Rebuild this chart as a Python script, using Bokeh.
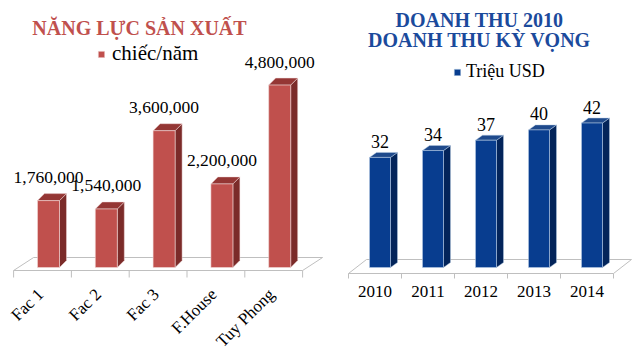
import math
from bokeh.plotting import figure
from bokeh.layouts import row
from bokeh.models import Range1d, Label, Legend, LegendItem
from bokeh.core.properties import value
from bokeh.embed import file_html
from bokeh.resources import INLINE

# ---- data ----
factories = ["Fac 1", "Fac 2", "Fac 3", "F.House", "Tuy Phong"]
capacity = [1760000, 1540000, 3600000, 2200000, 4800000]
capacity_unit = "chiếc/năm"
title_left = ["NĂNG LỰC SẢN XUẤT"]

years = ["2010", "2011", "2012", "2013", "2014"]
revenue = [32, 34, 37, 40, 42]
revenue_unit = "Triệu USD"
title_right = ["DOANH THU 2010", "DOANH THU KỲ VỌNG"]

H = 354
FONT = "Liberation Serif"


def build(cats, vals, titles, unit, cfg):
    W, step, c0, k, base = cfg["W"], cfg["step"], cfg["c0"], cfg["k"], cfg["base"]
    p = figure(width=W, height=H,
               x_range=Range1d(-c0 / step, (W - c0) / step),
               y_range=Range1d(-(H - base) / k, base / k),
               output_backend="svg", toolbar_location=None,
               x_axis_type=None, y_axis_type=None, min_border=0)
    p.outline_line_color = None
    p.grid.visible = False
    p.background_fill_color = "white"
    p.border_fill_color = "white"

    def px(d):
        return d / step

    def py(d):
        return d / k

    n = len(cats)
    ff, fdx, fdy, tl = cfg["ff"], cfg["fdx"], cfg["fdy"], cfg["tick"]
    # floor
    p.patch([-0.5, n - 0.5, n - 0.5 + px(fdx), -0.5 + px(fdx)],
            [py(-ff), py(-ff), py(-ff + fdy), py(-ff + fdy)],
            fill_color="white", line_color="#BFBFBF", line_width=1)
    bounds = [i - 0.5 for i in range(n + 1)]
    p.segment(x0=bounds, y0=[py(-ff)] * len(bounds), x1=bounds,
              y1=[py(-ff - tl)] * len(bounds), line_color="#BFBFBF", line_width=1)

    # bars
    xc = [i + px(cfg["shift"]) for i in range(n)]
    hw = px(cfg["bw"] / 2)
    ddx, ddy = px(cfg["bdx"]), py(cfg["bdy"])
    left = [x - hw for x in xc]
    right = [x + hw for x in xc]
    side_xs = [[r, r + ddx, r + ddx, r] for r in right]
    side_ys = [[0, ddy, v + ddy, v] for v in vals]
    top_xs = [[l, r, r + ddx, l + ddx] for l, r in zip(left, right)]
    top_ys = [[v, v, v + ddy, v + ddy] for v in vals]
    edge = cfg["edge"]
    p.patches(side_xs, side_ys, fill_color=cfg["side"], line_color=edge,
              line_alpha=0.6, line_width=0.8)
    p.patches(top_xs, top_ys, fill_color=cfg["top"], line_color=edge,
              line_alpha=0.6, line_width=0.8)
    front = p.quad(left=left, right=right, bottom=[0] * n, top=vals,
                   fill_color=cfg["front"], line_color=edge, line_alpha=0.7,
                   line_width=0.8)

    # value labels
    p.text(x=xc, y=[v + py(cfg["loff"]) for v in vals], text=cfg["fmt"](vals),
           text_align="center", text_baseline="alphabetic",
           text_font=value(FONT), text_font_size=cfg["lfs"], text_color="#000000")

    # category labels
    if cfg["rot"]:
        p.text(x=[i + px(cfg["cx"]) for i in range(n)], y=[py(cfg["cy"])] * n,
               text=cats, angle=math.pi / 4, text_align="right",
               text_baseline="middle", text_font=value(FONT),
               text_font_size=cfg["cfs"], text_color="#000000")
    else:
        p.text(x=[i + px(cfg["cx"]) for i in range(n)], y=[py(cfg["cy"])] * n,
               text=cats, text_align="center", text_baseline="middle",
               text_font=value(FONT), text_font_size=cfg["cfs"],
               text_color="#000000")

    # titles
    for j, t in enumerate(titles):
        p.add_layout(Label(x=cfg["tx"], y=H - cfg["ty"][j], x_units="screen",
                           y_units="screen", text=t, text_align="center",
                           text_baseline="alphabetic", text_font=FONT,
                           text_font_style="bold", text_font_size="20px",
                           text_color=cfg["tcolor"]))

    # legend
    leg = Legend(items=[LegendItem(label=unit, renderers=[front])],
                 location=cfg["legloc"], glyph_width=8, glyph_height=8,
                 label_standoff=cfg["lstand"], padding=0, margin=0, spacing=0,
                 border_line_color=None, background_fill_alpha=0,
                 label_text_font=FONT, label_text_font_size=cfg["legfs"],
                 label_text_color="#000000")
    p.add_layout(leg, "center")
    return p


cfg_left = dict(W=323, step=57.8, c0=42, k=38e-6, base=267, ff=3, fdx=20, fdy=13,
                tick=7, shift=6, bw=22, bdx=7, bdy=7, loff=23, lfs="17.5px",
                fmt=lambda vs: [f"{v:,}" for v in vs],
                rot=True, cx=-2, cy=-24, cfs="17px",
                front="#C0504D", side="#7B2B29", top="#943634", edge="#F2DCDB",
                tx=139, ty=[27], tcolor="#C0504D",
                legloc=(97, 288), lstand=7, legfs="21px")

cfg_right = dict(W=319, step=53, c0=51.5, k=3.44, base=267, ff=6, fdx=18, fdy=14,
                 tick=5, shift=5, bw=21, bdx=7, bdy=5, loff=16, lfs="18px",
                 fmt=lambda vs: [str(v) for v in vs],
                 rot=False, cx=0, cy=-24, cfs="17px",
                 front="#083D8F", side="#03245A", top="#1F4A8C", edge="#B8CCE4",
                 tx=156, ty=[19, 39], tcolor="#1B4A9C",
                 legloc=(130, 272), lstand=5, legfs="18px")

p1 = build(factories, capacity, title_left, capacity_unit, cfg_left)
p2 = build(years, revenue, title_right, revenue_unit, cfg_right)
layout = row(p1, p2)
open("out.html", "w").write(file_html(layout, INLINE))
